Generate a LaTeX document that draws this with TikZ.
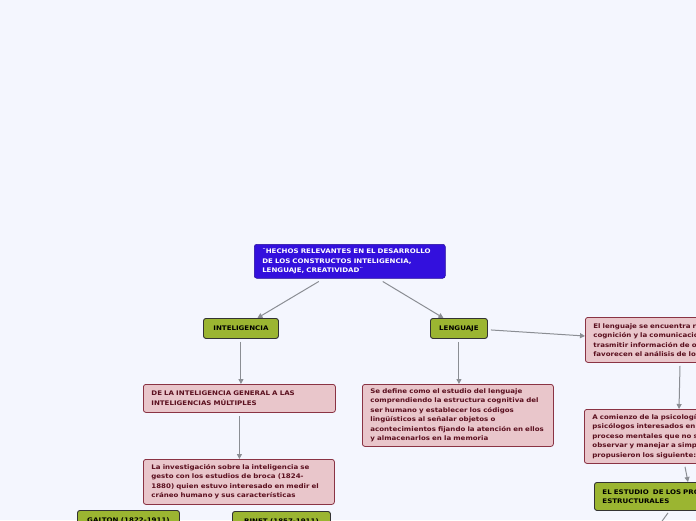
\documentclass[tikz,border=0pt]{standalone}
\usepackage{fontspec}
\setmainfont{DejaVu Sans}[FakeStretch=1.12]
\usetikzlibrary{calc,arrows.meta}
\definecolor{bgc}{HTML}{F4F6FE}
\definecolor{titc}{HTML}{3310DD}
\definecolor{grn}{HTML}{9BB531}
\definecolor{pnk}{HTML}{E9C6CB}
\definecolor{pnkb}{HTML}{8A3344}
\definecolor{pnkt}{HTML}{5A0F1E}
\definecolor{arr}{HTML}{8B8E94}
\tikzset{
  base/.style={anchor=north west, rounded corners=2.5pt, align=left,
    font=\fontsize{6.3}{9.5}\selectfont\bfseries, inner xsep=8pt, inner ysep=0pt},
  titlebox/.style={base, fill=titc, draw=titc!70!black, line width=0.5pt, text=white},
  greenbox/.style={base, fill=grn, draw=black!80, line width=0.9pt, text=black},
  pinkbox/.style={base, fill=pnk, draw=pnkb, line width=0.8pt, text=pnkt},
  conn/.style={draw=arr, line width=1pt, -{Triangle[length=5pt,width=5pt]}},
}
\begin{document}
\begin{tikzpicture}[x=1pt,y=-1pt]
\clip (0,0) rectangle (696,520);
\fill[bgc] (0,0) rectangle (696,520);

\node[titlebox, minimum width=189pt, minimum height=34pt, text width=175pt] (title) at (254,244)
  {¨HECHOS RELEVANTES EN EL DESARROLLO\\DE LOS CONSTRUCTOS INTELIGENCIA,\\LENGUAJE, CREATIVIDAD¨};

\node[greenbox, minimum width=75pt, minimum height=20pt, align=center, inner xsep=0pt] (intel) at (203,318) {INTELIGENCIA};
\node[greenbox, minimum width=57pt, minimum height=20pt, align=center, inner xsep=0pt] (leng) at (430,318) {LENGUAJE};

\node[pinkbox, minimum width=192pt, minimum height=28pt, text width=176pt] (dela) at (143,384)
  {DE LA INTELIGENCIA GENERAL A LAS\\INTELIGENCIAS MÚLTIPLES};

\node[pinkbox, minimum width=191pt, minimum height=62pt, text width=175pt] (def) at (362,384)
  {Se define como el estudio del lenguaje\\comprendiendo la estructura cognitiva del\\ser humano y establecer los códigos\\lingüísticos al señalar objetos o\\acontecimientos fijando la atención en ellos\\y almacenarlos en la memoria};

\node[pinkbox, minimum width=200pt, minimum height=45pt, text width=184pt] (ell) at (585,317)
  {El lenguaje se encuentra relacionado con la\\cognición y la comunicación al\\trasmitir información de otras\\favorecen el análisis de los};

\node[pinkbox, minimum width=200pt, minimum height=54pt, text width=184pt] (acom) at (584,409)
  {A comienzo de la psicología los\\psicólogos interesados en el\\proceso mentales que no se podían\\observar y manejar a simple vista\\propusieron los siguiente:};

\node[greenbox, minimum width=200pt, minimum height=28pt, text width=184pt] (est) at (594,482)
  {EL ESTUDIO\ \ DE LOS PROCESOS\\ESTRUCTURALES};

\node[pinkbox, minimum width=191pt, minimum height=45pt, text width=175pt] (inv) at (143,459)
  {La investigación sobre la inteligencia se\\gesto con los estudios de broca (1824-\\1880) quien estuvo interesado en medir el\\cráneo humano y sus características};

\node[greenbox, minimum width=102pt, minimum height=20pt, align=center, inner xsep=0pt] (galton) at (77,510) {GALTON (1822-1911)};
\node[greenbox, minimum width=98pt, minimum height=20pt, align=center, inner xsep=0pt] (binet) at (232,511) {BINET (1857-1911)};

\coordinate (offend) at (652,535);

\draw[conn] ([xshift=-31pt]title.south) ++(0,3) -- ([xshift=16.5pt]intel.north);
\draw[conn] ([xshift=33pt]title.south) ++(0,3) -- ([xshift=-15.5pt]leng.north);
\draw[conn] (intel.south) ++(0,3) -- (intel.south |- dela.north);
\draw[conn] (dela.south) ++(0,3) -- (dela.south |- inv.north);
\draw[conn] (leng.south) ++(0,3) -- (leng.south |- def.north);
\draw[conn] (leng.east) ++(3,1.5) -- ([xshift=0pt]ell.west |- 0,336);
\draw[conn] ([xshift=95pt]ell.south west) ++(0,3) -- ([xshift=95pt]acom.north west);
\draw[conn] ([xshift=101pt]acom.south west) ++(0,3) -- ([xshift=94pt]est.north west);
\draw[draw=arr, line width=1pt] ([xshift=74pt]est.south west) ++(0,2) -- (offend);
\end{tikzpicture}
\end{document}
